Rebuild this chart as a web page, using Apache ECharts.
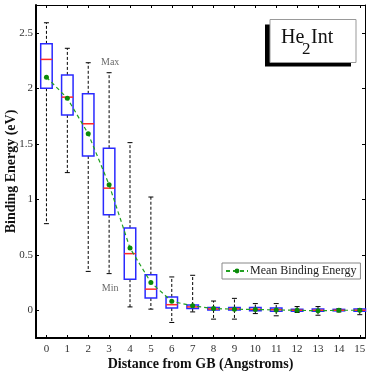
<!DOCTYPE html>
<html style="height: 100%">
<head>
    <meta charset="utf-8">
    <title>He2Int binding energy</title>
</head>
<body style="height: 100%; margin: 0">
<div id="container" style="width: 374px; height: 375px"></div>

<script src="https://cdn.jsdelivr.net/npm/echarts@6/dist/echarts.min.js"></script>
<script type="text/javascript">
// distance from GB (Angstroms) and box statistics
var distances  = [0, 1, 2, 3, 4, 5, 6, 7, 8, 9, 10, 11, 12, 13, 14, 15];
var whiskerMax = [2.59, 2.36, 2.23, 2.14, 1.51, 1.02, 0.30, 0.315, 0.083, 0.107, 0.06, 0.06, 0.033, 0.033, 0.015, 0.015];
var q3         = [2.40, 2.12, 1.95, 1.46, 0.74, 0.32, 0.12, 0.047, 0.024, 0.025, 0.024, 0.02, 0.01, 0.012, 0.008, 0.012];
var median     = [2.26, 1.92, 1.68, 1.10, 0.51, 0.19, 0.05, 0.03, 0.012, 0.012, 0.008, 0.005, 0.0, 0.0, 0.0, 0.0];
var q1         = [2.00, 1.76, 1.39, 0.86, 0.28, 0.11, 0.02, 0.015, 0.003, 0.003, -0.005, -0.008, -0.01, -0.01, -0.005, -0.008];
var whiskerMin = [0.78, 1.24, 0.35, 0.33, 0.03, 0.01, -0.11, -0.015, -0.08, -0.08, -0.03, -0.05, -0.02, -0.045, -0.015, -0.04];
var means      = [2.10, 1.91, 1.59, 1.13, 0.56, 0.25, 0.08, 0.04, 0.015, 0.01, 0.006, 0.003, 0.0, -0.005, 0.0, 0.0];

var xTicks = [0, 1, 2, 3, 4, 5, 6, 7, 8, 9, 10, 11, 12, 13, 14, 15];
var yTicks = [0, 0.5, 1, 1.5, 2, 2.5];
// text notes on the plot
var notes = [[3.05, 2.23, 'Max'], [3.05, 0.2, 'Min']];

var serif = '"Liberation Serif", "DejaVu Serif", serif';

var boxData = [];
var meanData = [];
for (var i = 0; i < distances.length; i++) {
    boxData.push([distances[i], whiskerMin[i], q1[i], median[i], q3[i], whiskerMax[i]]);
    meanData.push([distances[i], means[i]]);
}

var myChart = echarts.init(document.getElementById('container'));

function renderBox(params, api) {
    var x = api.value(0);
    var pMin = api.coord([x, api.value(1)]);
    var pQ1 = api.coord([x, api.value(2)]);
    var pMed = api.coord([x, api.value(3)]);
    var pQ3 = api.coord([x, api.value(4)]);
    var pMax = api.coord([x, api.value(5)]);
    var cx = pMed[0];
    var halfW = api.size([0.55, 0])[0] / 2;
    var capW = 2.5;
    var dash = {stroke: '#000', lineWidth: 1, lineDash: [3, 2]};
    var solid = {stroke: '#000', lineWidth: 1};
    return {
        type: 'group',
        children: [
            {type: 'line', shape: {x1: cx, y1: pQ3[1], x2: cx, y2: pMax[1]}, style: dash},
            {type: 'line', shape: {x1: cx, y1: pQ1[1], x2: cx, y2: pMin[1]}, style: dash},
            {type: 'line', shape: {x1: cx - capW, y1: pMax[1], x2: cx + capW, y2: pMax[1]}, style: solid},
            {type: 'line', shape: {x1: cx - capW, y1: pMin[1], x2: cx + capW, y2: pMin[1]}, style: solid},
            {type: 'rect', shape: {x: cx - halfW, y: pQ3[1], width: halfW * 2, height: Math.max(pQ1[1] - pQ3[1], 1.5)},
                style: {fill: 'none', stroke: '#2a2aff', lineWidth: 1.5}},
            {type: 'line', shape: {x1: cx - halfW, y1: pMed[1], x2: cx + halfW, y2: pMed[1]},
                style: {stroke: '#ff2a2a', lineWidth: 1.5}}
        ]
    };
}

var option = {
    backgroundColor: '#fff',
    animation: false,
    grid: {left: 36, right: 9, top: 5, bottom: 37, containLabel: false, outerBoundsMode: 'none'},
    legend: {
        left: 222,
        top: 263,
        data: ['Mean Binding Energy'],
        itemWidth: 22,
        itemHeight: 6,
        itemGap: 0,
        padding: [2, 4, 2, 3],
        backgroundColor: '#fff',
        borderColor: '#888',
        borderWidth: 1,
        borderRadius: 0,
        textStyle: {fontFamily: serif, fontSize: 12, color: '#222', padding: [0, 0, 0, -3]}
    },
    xAxis: [{
        type: 'value',
        min: -0.5,
        max: 15.25,
        name: 'Distance from GB (Angstroms)',
        nameLocation: 'middle',
        nameGap: 19,
        nameMoveOverlap: false,
        nameTextStyle: {fontFamily: serif, fontSize: 14, fontWeight: 'bold', color: '#111'},
        axisLine: {onZero: false, lineStyle: {color: '#000', width: 2}},
        axisTick: {inside: true, length: 3, customValues: xTicks, lineStyle: {color: '#000'}},
        axisLabel: {customValues: xTicks, fontFamily: serif, fontSize: 11, color: '#333', margin: 6},
        splitLine: {show: false}
    }, {
        type: 'value',
        position: 'top',
        min: -0.5,
        max: 15.25,
        axisLine: {onZero: false, lineStyle: {color: '#000', width: 1}},
        axisTick: {inside: true, length: 3, customValues: xTicks, lineStyle: {color: '#000'}},
        axisLabel: {show: false},
        splitLine: {show: false}
    }],
    yAxis: [{
        type: 'value',
        min: -0.25,
        max: 2.75,
        name: 'Binding Energy (eV)',
        nameLocation: 'middle',
        nameGap: 18,
        nameMoveOverlap: false,
        nameTextStyle: {fontFamily: serif, fontSize: 14, fontWeight: 'bold', color: '#111'},
        axisLine: {show: true, onZero: false, lineStyle: {color: '#000', width: 2}},
        axisTick: {show: true, inside: true, length: 3, customValues: yTicks, lineStyle: {color: '#000'}},
        axisLabel: {customValues: yTicks, fontFamily: serif, fontSize: 11, color: '#333', margin: 3},
        splitLine: {show: false}
    }, {
        type: 'value',
        position: 'right',
        min: -0.25,
        max: 2.75,
        axisLine: {show: true, onZero: false, lineStyle: {color: '#000', width: 1}},
        axisTick: {show: true, inside: true, length: 3, customValues: yTicks, lineStyle: {color: '#000'}},
        axisLabel: {show: false},
        splitLine: {show: false}
    }],
    graphic: [{
        type: 'group',
        left: 265,
        top: 19,
        children: [
            {type: 'rect', shape: {x: 0, y: 5, width: 86, height: 42}, style: {fill: '#000'}},
            {type: 'rect', shape: {x: 5, y: 0, width: 86, height: 43}, style: {fill: '#fff', stroke: '#999', lineWidth: 1}},
            {type: 'text', x: 16, y: 8, style: {text: 'He', font: '20px ' + serif, fill: '#111'}},
            {type: 'text', x: 37, y: 22, style: {text: '2', font: '17px ' + serif, fill: '#111'}},
            {type: 'text', x: 46, y: 8, style: {text: 'Int', font: '20px ' + serif, fill: '#111'}}
        ]
    }],
    series: [{
        name: 'boxes',
        type: 'custom',
        renderItem: renderBox,
        encode: {x: 0, y: [1, 2, 3, 4, 5]},
        data: boxData,
        z: 2
    }, {
        name: 'Mean Binding Energy',
        type: 'line',
        data: meanData,
        symbol: 'circle',
        symbolSize: 5,
        itemStyle: {color: '#0a8a0a'},
        lineStyle: {color: '#22a022', width: 1.2, type: [4, 3]},
        z: 3
    }, {
        name: 'notes',
        type: 'scatter',
        data: notes,
        symbolSize: 0,
        label: {
            show: true,
            position: 'inside',
            formatter: function (p) { return p.value[2]; },
            fontFamily: serif,
            fontSize: 10,
            color: '#444'
        },
        silent: true
    }]
};
myChart.setOption(option);
</script>
</body>
</html>
